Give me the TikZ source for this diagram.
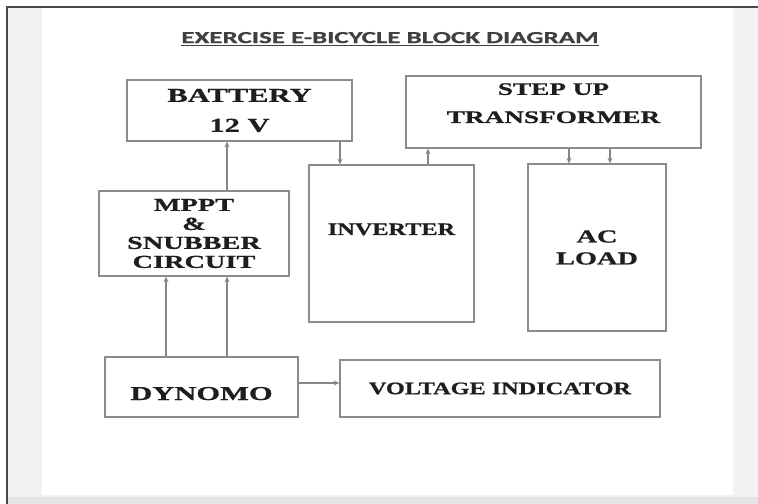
\documentclass[tikz,border=0pt]{standalone}
\usepackage{fontspec}
\setmainfont{Liberation Serif}
\newfontfamily\blockfont[FakeStretch=1.55, BoldFeatures={FakeBold=0.8}]{Liberation Serif}
\newfontfamily\blockfontn[FakeStretch=1.38, BoldFeatures={FakeBold=0.8}]{Liberation Serif}
\newfontfamily\titlefont[FakeStretch=1.6, BoldFeatures={FakeBold=0.8}]{Carlito}
\usetikzlibrary{arrows.meta, positioning}
\definecolor{cline}{HTML}{858585}
\definecolor{cedge}{HTML}{8C8C8C}
\definecolor{ctext}{HTML}{1E1E1E}
\definecolor{cpage}{HTML}{F1F2F3}
\definecolor{cband}{HTML}{E4E4E4}
\definecolor{cframe}{HTML}{4A4A4A}
\tikzset{
  every picture/.style={line width=0.8pt},
  block/.style={draw=cedge, fill=white, align=center, inner sep=0pt, text=ctext, font=\blockfont\bfseries},
  arrow/.style={-{Stealth[length=4pt, width=3.5pt]}, draw=cline, line width=0.8pt},
  title/.style={font=\titlefont\bfseries\fontsize{12}{14}\selectfont, text=ctext!85},
}

\begin{document}
\begin{tikzpicture}[x=0.025cm, y=-0.025cm]
  \useasboundingbox (0,0) rectangle (758,504);
  % page
  \fill[cpage] (8,7) rectangle (758,504);
  \fill[white] (42,8) rectangle (733,495);
  \fill[cband] (8,497) rectangle (758,504);
  \draw[cframe, line width=1.5pt] (7,504) -- (7,7) -- (758,7);

  \node[title] (head) at (390,39) {\underline{EXERCISE E-BICYCLE BLOCK DIAGRAM}};

  \node[block, minimum width=5.625cm, minimum height=1.525cm, font=\blockfont\bfseries\fontsize{14}{21.3}\selectfont] (bat) at (239.5,110.5) {BATTERY\\12 V};
  \node[block, minimum width=7.375cm, text height=1.175cm, text depth=0.625cm, font=\blockfont\bfseries\fontsize{12.5}{20}\selectfont] (trf) at (553.5,112) {STEP UP\\TRANSFORMER};
  \node[block, minimum width=4.75cm, minimum height=2.125cm, font=\blockfont\bfseries\fontsize{13}{13.5}\selectfont] (mppt) at (194,233.5) {MPPT\\\&\\SNUBBER\\CIRCUIT};
  \node[block, minimum width=4.125cm, text height=1.75cm, text depth=2.175cm, font=\blockfontn\bfseries\fontsize{12.5}{15}\selectfont] (inv) at (391.5,243.5) {INVERTER};
  \node[block, minimum width=3.45cm, minimum height=4.175cm, font=\blockfont\bfseries\fontsize{13}{15.6}\selectfont] (acl) at (597,247.5) {AC\\LOAD};
  \node[block, minimum width=4.825cm, text height=1.075cm, text depth=0.425cm, font=\blockfont\bfseries\fontsize{14}{16}\selectfont] (dyn) at (201.5,387) {DYNOMO};
  \node[block, minimum width=8cm, minimum height=1.425cm, font=\blockfontn\bfseries\fontsize{12.5}{15}\selectfont] (vi) at (500,388.5) {VOLTAGE INDICATOR};

  % connectors
  \foreach \x in {166,227} \draw[arrow] (dyn.north -| \x,0) -- (mppt.south -| \x,0);
  \draw[arrow] (mppt.north -| 227,0) -- (bat.south -| 227,0);
  \draw[arrow] (bat.south -| 340,0) -- (inv.north -| 340,0);
  \draw[arrow] (inv.north -| 428,0) -- (trf.south -| 428,0);
  \foreach \x in {569,610} \draw[arrow] (trf.south -| \x,0) -- (acl.north -| \x,0);
  \draw[arrow] (dyn.east |- 0,383) -- (vi.west |- 0,383);
\end{tikzpicture}
\end{document}
